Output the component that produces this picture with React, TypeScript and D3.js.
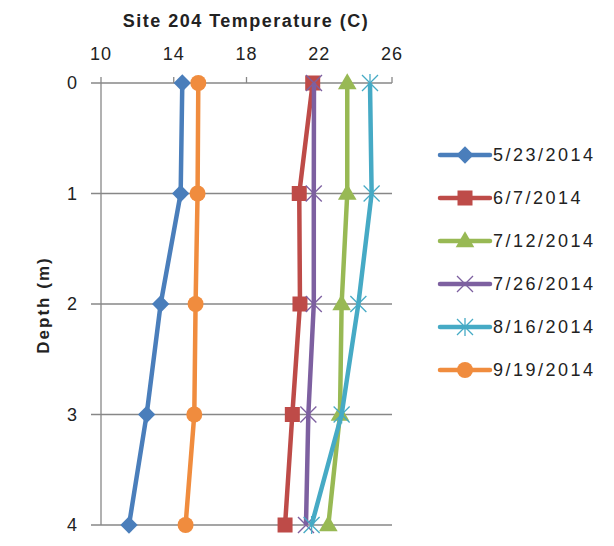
import React from "react";
import * as d3 from "d3";

const depths = [0, 1, 2, 3, 4];
const xTicks = [10, 14, 18, 22, 26];
const seriesNames = ["5/23/2014", "6/7/2014", "7/12/2014", "7/26/2014", "8/16/2014", "9/19/2014"];
const temp0523 = [14.47, 14.38, 13.28, 12.51, 11.54];
const temp0607 = [21.64, 20.9, 20.94, 20.52, 20.12];
const temp0712 = [23.54, 23.54, 23.23, 23.14, 22.5];
const temp0726 = [21.71, 21.7, 21.7, 21.4, 21.27];
const temp0816 = [24.79, 24.88, 24.15, 23.23, 21.58];
const temp0919 = [15.35, 15.31, 15.2, 15.13, 14.65];

const colors = ["#4A7EBB", "#BE4B48", "#98B954", "#7D60A0", "#46AAC5", "#F08C3E"];
const markers = ["diamond", "square", "triangle", "x", "star", "circle"];

const W = 614;
const H = 546;
const font = "'Liberation Sans', Arial, sans-serif";

function Marker({kind, color, x, y}: {kind: string; color: string; x: number; y: number}) {
    if (kind === "diamond") {
        const p = d3.symbol().type(d3.symbolSquare).size(150)();
        return <path d={p || ""} transform={`translate(${x},${y}) rotate(45)`} fill={color} />;
    }
    if (kind === "square") {
        return <rect x={x - 7.5} y={y - 7.5} width={15} height={15} fill={color} />;
    }
    if (kind === "triangle") {
        const p = d3.symbol().type(d3.symbolTriangle).size(150)();
        return <path d={p || ""} transform={`translate(${x},${y + 1})`} fill={color} />;
    }
    if (kind === "circle") {
        return <circle cx={x} cy={y} r={8} fill={color} />;
    }
    const r = 8;
    const lines = [
        [-r, -r, r, r],
        [-r, r, r, -r],
    ];
    if (kind === "star") lines.push([0, -r - 1, 0, r + 1]);
    return (
        <g transform={`translate(${x},${y})`} stroke={color} strokeWidth={1.3}>
            {lines.map((l, i) => (
                <line key={i} x1={l[0]} y1={l[1]} x2={l[2]} y2={l[3]} />
            ))}
        </g>
    );
}

export default function App() {
    const allTemps = [temp0523, temp0607, temp0712, temp0726, temp0816, temp0919];
    const x = d3.scaleLinear().domain([10, 26]).range([101, 392]);
    const y = d3.scaleLinear().domain([0, 4]).range([83, 525]);
    const line = d3
        .line<number>()
        .x((d) => x(d))
        .y((d, i) => y(depths[i]));
    const grid = "#878787";

    return (
        <svg
            width={W}
            height={H}
            style={{position: "absolute", left: 0, top: 0, background: "#fff"}}
        >
            <text x={246} y={27} textAnchor="middle" fontFamily={font} fontWeight="bold" fontSize={18} letterSpacing={1.5} fill="#222">
                Site 204 Temperature (C)
            </text>
            {/* horizontal grid */}
            {depths.map((d) => (
                <line key={d} x1={91} x2={x(26)} y1={y(d)} y2={y(d)} stroke={grid} strokeWidth={1.3} />
            ))}
            <line x1={x(10)} x2={x(10)} y1={y(0)} y2={y(4)} stroke={grid} strokeWidth={1.3} />
            {xTicks.map((t) => (
                <g key={t}>
                    <line x1={x(t)} x2={x(t)} y1={y(0) - 6} y2={y(0)} stroke={grid} strokeWidth={1.3} />
                    <text x={x(t)} y={60} textAnchor="middle" fontFamily={font} fontSize={18} letterSpacing={1} fill="#222">
                        {t}
                    </text>
                </g>
            ))}
            {depths.map((d) => (
                <text key={d} x={77} y={y(d) + 6} textAnchor="end" fontFamily={font} fontSize={18} fill="#222">
                    {d}
                </text>
            ))}
            <text
                transform={`translate(49,305) rotate(-90)`}
                textAnchor="middle"
                fontFamily={font}
                fontWeight="bold"
                fontSize={17}
                letterSpacing={2}
                fill="#222"
            >
                Depth (m)
            </text>
            {allTemps.map((s, si) => (
                <g key={si}>
                    <path d={line(s) || ""} fill="none" stroke={colors[si]} strokeWidth={4.5} strokeLinejoin="round" />
                    {s.map((v, i) => (
                        <Marker key={i} kind={markers[si]} color={colors[si]} x={x(v)} y={y(depths[i])} />
                    ))}
                </g>
            ))}
            {seriesNames.map((n, i) => {
                const ly = 155 + i * 43;
                return (
                    <g key={n}>
                        <line x1={440} x2={490} y1={ly} y2={ly} stroke={colors[i]} strokeWidth={4.5} strokeLinecap="round" />
                        <Marker kind={markers[i]} color={colors[i]} x={465} y={ly} />
                        <text x={493} y={ly + 6} fontFamily={font} fontSize={18} letterSpacing={2.5} fill="#222">
                            {n}
                        </text>
                    </g>
                );
            })}
        </svg>
    );
}
